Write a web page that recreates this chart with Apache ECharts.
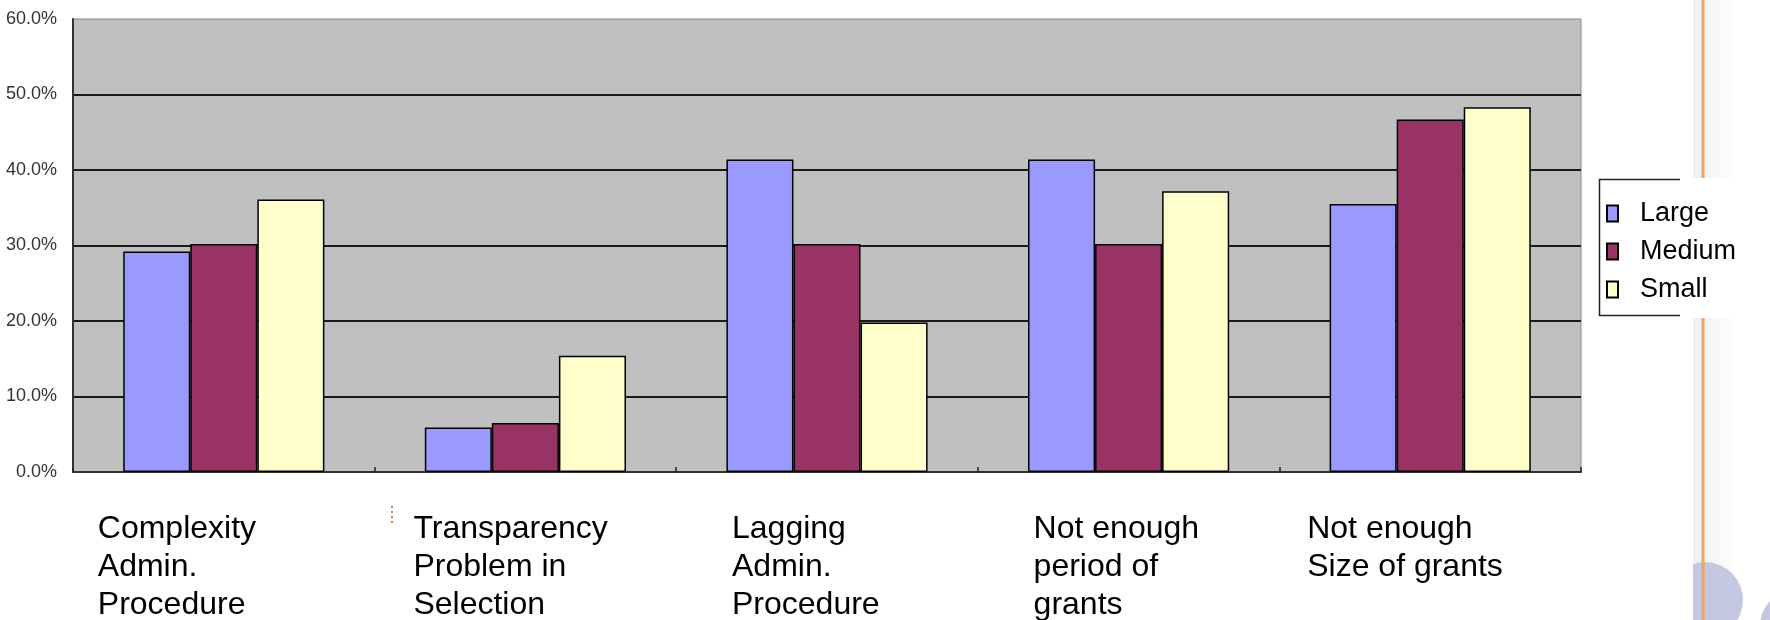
<!DOCTYPE html>
<html>
<head>
<meta charset="utf-8">
<script src="https://cdn.jsdelivr.net/npm/echarts@6/dist/echarts.min.js"></script>
<style>
  html, body { margin: 0; padding: 0; background: #ffffff; }
  #chart { width: 1770px; height: 620px; }
</style>
</head>
<body>
<div id="chart"></div>
<script>
// ---- data ----
const categories = [
  'Complexity\nAdmin.\nProcedure',
  'Transparency\nProblem in\nSelection',
  'Lagging\nAdmin.\nProcedure',
  'Not enough\nperiod of\ngrants',
  'Not enough\nSize of grants'
];
const seriesNames = ['Large', 'Medium', 'Small'];
const largeValues  = [29.2, 5.9, 41.4, 41.4, 35.5];
const mediumValues = [30.2, 6.5, 30.2, 30.2, 46.7];
const smallValues  = [36.1, 15.4, 19.8, 37.2, 48.3];
const yMin = 0, yMax = 60, yStep = 10;

// ---- layout / style ----
const labelLeftShift = [126, 112, 95, 95, 123];
const colors = ['#9999FF', '#993366', '#FFFFCC'];
const font = '"Liberation Sans", Arial, sans-serif';

const rich = {};
labelLeftShift.forEach((w, i) => {
  rich['c' + i] = { width: w, align: 'left', fontSize: 32, lineHeight: 38, color: '#000', fontFamily: font };
});

const chart = echarts.init(document.getElementById('chart'), null, { renderer: 'canvas' });
const valuesBySeries = [largeValues, mediumValues, smallValues];

chart.setOption({
  animation: false,
  backgroundColor: '#ffffff',
  grid: {
    left: 73, right: 189, top: 19, bottom: 148,
    outerBoundsMode: 'none',
    containLabel: false,
    show: true, backgroundColor: '#C0C0C0', borderColor: '#8a8a8a', borderWidth: 1
  },
  legend: {
    data: seriesNames,
    orient: 'vertical',
    left: 1606, top: 200,
    padding: 0,
    itemWidth: 11, itemHeight: 16,
    itemGap: 11,
    icon: 'rect',
    textStyle: { fontSize: 27, fontFamily: font, color: '#000', padding: [0, 0, 0, 17] }
  },
  xAxis: {
    type: 'category',
    data: categories,
    axisLine: { show: true, lineStyle: { color: '#333', width: 2 } },
    axisTick: { show: true, inside: true, length: 5, lineStyle: { color: '#222', width: 1.5 } },
    axisLabel: {
      interval: 0,
      align: 'right',
      verticalAlign: 'top',
      margin: 38,
      formatter: (v, i) => v.split('\n').map(l => '{c' + i + '|' + l + '}').join('\n'),
      rich: rich
    }
  },
  yAxis: {
    type: 'value',
    min: yMin, max: yMax, interval: yStep,
    axisLine: { show: true, lineStyle: { color: '#333', width: 2 } },
    axisTick: { show: false },
    splitLine: { show: true, showMaxLine: false, lineStyle: { color: '#1a1a1a', width: 2 } },
    axisLabel: {
      margin: 16,
      fontSize: 18,
      fontFamily: font,
      color: '#333',
      formatter: v => v.toFixed(1) + '%'
    }
  },
  series: seriesNames.map((name, k) => ({
    name: name,
    type: 'bar',
    data: valuesBySeries[k],
    barGap: '0%',
    barCategoryGap: '33.3%',
    itemStyle: { color: colors[k], borderColor: '#000', borderWidth: 1.5 }
  })),
  graphic: {
    elements: [
      { type: 'rect', z: 1, shape: { x: 1693, y: 0, width: 45, height: 178 },
        style: { fill: new echarts.graphic.LinearGradient(0, 0, 1, 0, [{ offset: 0, color: '#EDF0F3' }, { offset: 1, color: '#FFFFFF' }]) } },
      { type: 'rect', z: 1, shape: { x: 1693, y: 318, width: 45, height: 302 },
        style: { fill: new echarts.graphic.LinearGradient(0, 0, 1, 0, [{ offset: 0, color: '#EDF0F3' }, { offset: 1, color: '#FFFFFF' }]) } },
      { type: 'circle', z: 2, shape: { cx: 1705, cy: 600, r: 38 }, style: { fill: '#C4C7E0' } },
      { type: 'circle', z: 2, shape: { cx: 1796, cy: 626, r: 36 }, style: { fill: '#C4C7E0' } },
      { type: 'rect', z: 3, shape: { x: 1655, y: 550, width: 38, height: 70 }, style: { fill: '#FFFFFF' } },
      { type: 'line', z: 4, shape: { x1: 1703, y1: 0, x2: 1703, y2: 178 }, style: { stroke: '#F5A462', lineWidth: 3 } },
      { type: 'line', z: 4, shape: { x1: 1703, y1: 318, x2: 1703, y2: 620 }, style: { stroke: '#F5A462', lineWidth: 3 } },
      { type: 'line', z: 4, shape: { x1: 392, y1: 506, x2: 392, y2: 524 }, style: { stroke: '#C08850', lineWidth: 2, lineDash: [2, 3] } },
      { type: 'polyline', z: 5, shape: { points: [[1680, 179.5], [1599.5, 179.5], [1599.5, 315.5], [1680, 315.5]] },
        style: { stroke: '#222', lineWidth: 1.5, fill: null } }
    ]
  }
});
</script>
</body>
</html>
